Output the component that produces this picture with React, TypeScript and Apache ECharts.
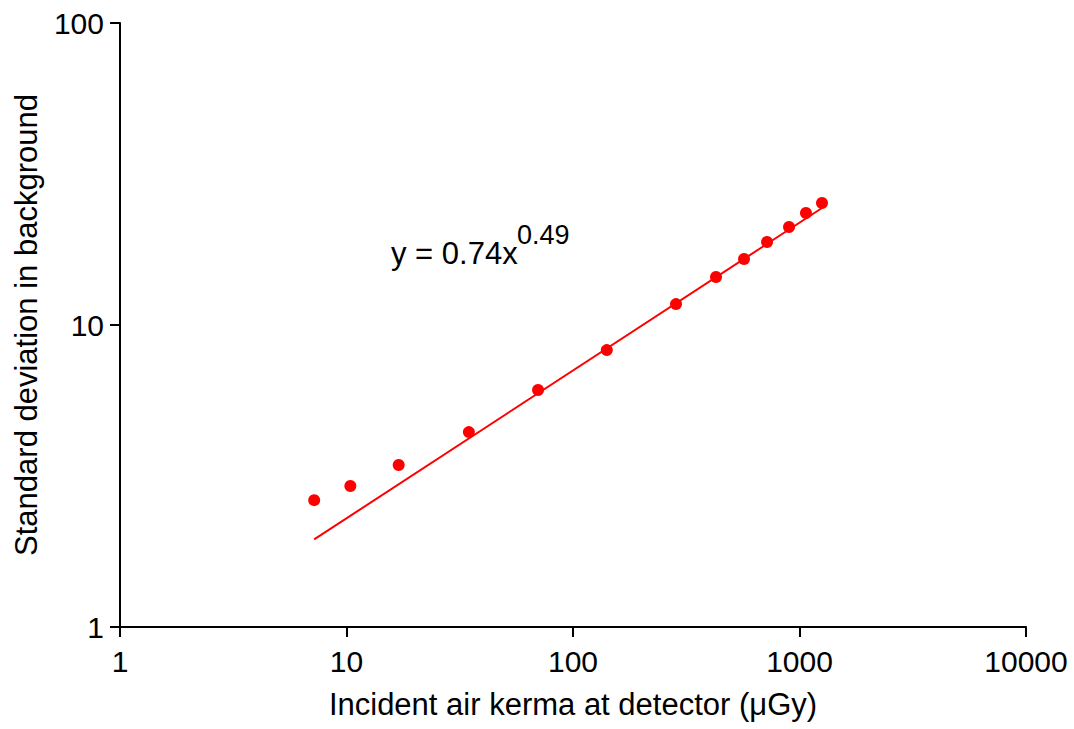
import React, { useEffect, useRef } from "react";
import * as echarts from "echarts";

const kermaValues = [7.2, 10.4, 17.0, 34.7, 70.1, 141, 285, 428, 569, 719, 899, 1068, 1257];
const stdDevValues = [2.63, 2.93, 3.44, 4.42, 6.09, 8.26, 11.73, 14.42, 16.54, 18.83, 21.11, 23.49, 25.35];
const fitX = [7.2, 1257];
const fitY = [1.95, 24.4];
const equationMain = "y = 0.74x";
const equationExp = "0.49";

export default function App() {
  const ref = useRef<HTMLDivElement>(null);
  useEffect(() => {
    if (!ref.current) return;
    const chart = echarts.init(ref.current, undefined, { renderer: "svg" });
    const font = "Liberation Sans, Arial, sans-serif";
    chart.setOption({
      animation: false,
      backgroundColor: "#fff",
      grid: { left: 120, top: 23, right: 48, bottom: 102, containLabel: false },
      xAxis: {
        type: "log",
        logBase: 10,
        min: 1,
        max: 10000,
        name: "Incident air kerma at detector (\u03bcGy)",
        nameLocation: "middle",
        nameGap: 62,
        nameTextStyle: { fontFamily: font, fontSize: 31, color: "#000" },
        axisLine: { lineStyle: { color: "#000", width: 2 } },
        axisTick: { show: true, length: 10, lineStyle: { color: "#000", width: 2 } },
        minorTick: { show: false },
        splitLine: { show: false },
        axisLabel: {
          fontFamily: font,
          fontSize: 30,
          color: "#000",
          margin: 19,
          formatter: (v: number) => String(Math.round(v)),
        },
      },
      yAxis: {
        type: "log",
        logBase: 10,
        min: 1,
        max: 100,
        name: "Standard deviation in background",
        nameLocation: "middle",
        nameGap: 78,
        nameTextStyle: { fontFamily: font, fontSize: 31, color: "#000" },
        axisLine: { show: true, lineStyle: { color: "#000", width: 2 } },
        axisTick: { show: true, length: 10, lineStyle: { color: "#000", width: 2 } },
        splitLine: { show: false },
        axisLabel: {
          fontFamily: font,
          fontSize: 30,
          color: "#000",
          margin: 16,
          formatter: (v: number) => String(Math.round(v)),
        },
      },
      series: [
        {
          type: "line",
          data: fitX.map((x, i) => [x, fitY[i]]),
          showSymbol: false,
          symbol: "none",
          lineStyle: { color: "#ff0000", width: 2 },
          z: 2,
        },
        {
          type: "scatter",
          data: kermaValues.map((x, i) => [x, stdDevValues[i]]),
          symbol: "circle",
          symbolSize: 12,
          itemStyle: { color: "#ff0000", opacity: 1 },
          z: 3,
        },
      ],
      graphic: [
        {
          type: "text",
          left: 391,
          top: 238,
          style: { text: equationMain, fontFamily: font, fontSize: 31, fill: "#000" },
        },
        {
          type: "text",
          left: 517,
          top: 221,
          style: { text: equationExp, fontFamily: font, fontSize: 27, fill: "#000" },
        },
      ],
    });
    return () => chart.dispose();
  }, []);
  return <div ref={ref} style={{ width: 1074, height: 729, position: "absolute", left: 0, top: 0 }} />;
}
